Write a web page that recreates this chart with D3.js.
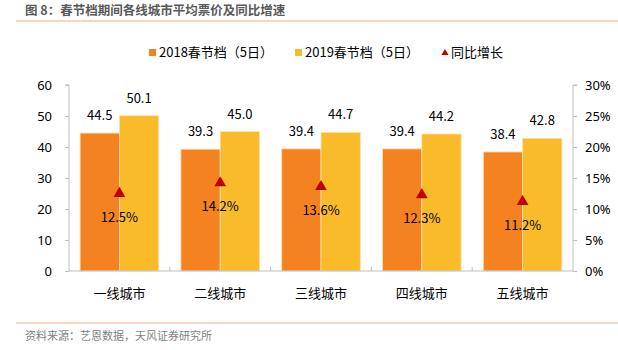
<!DOCTYPE html>
<html>
<head>
<meta charset="utf-8">
<script src="https://cdn.jsdelivr.net/npm/d3@7"></script>
<style>
  body { margin: 0; background: #fff; }
  text { font-family: "Noto Sans CJK SC", "Noto Sans", sans-serif; }
</style>
</head>
<body>
<script>
const cities = ["一线城市", "二线城市", "三线城市", "四线城市", "五线城市"];
const price2018 = [44.5, 39.3, 39.4, 39.4, 38.4];
const price2019 = [50.1, 45.0, 44.7, 44.2, 42.8];
const growth = [12.5, 14.2, 13.6, 12.3, 11.2];
const leftTicks = [0, 10, 20, 30, 40, 50, 60];
const rightTicks = [0, 5, 10, 15, 20, 25, 30];

let width = 618, height = 350;
let marginTop = 85, marginBottom = 79, marginLeft = 69, marginRight = 45;

const colOrange = "#F58220", colYellow = "#F9BB2A", colRed = "#C00000";

const svg = d3.select("body").append("svg")
    .attr("width", width)
    .attr("height", height);

// title and rules
svg.append("text").attr("x", 25).attr("y", 15)
    .attr("font-size", 12.5).attr("font-weight", "bold").attr("fill", "#595959")
    .text("图 8：春节档期间各线城市平均票价及同比增速");
svg.append("line").attr("x1", 16).attr("x2", width).attr("y1", 21).attr("y2", 21)
    .attr("stroke", "#F4B183").attr("stroke-width", 1.2);
svg.append("line").attr("x1", 16).attr("x2", width).attr("y1", 323).attr("y2", 323)
    .attr("stroke", "#F4B183").attr("stroke-width", 1.2);
svg.append("text").attr("x", 25).attr("y", 340)
    .attr("font-size", 11).attr("fill", "#7f7f7f")
    .text("资料来源：艺恩数据，天风证券研究所");

const x = d3.scaleBand()
    .domain(cities)
    .range([marginLeft, width - marginRight])
    .paddingInner(0.22).paddingOuter(0.11);
const x1 = d3.scaleBand().domain(["a", "b"]).range([0, x.bandwidth()]);

const y = d3.scaleLinear().domain([0, 60]).range([height - marginBottom, marginTop]);
const y2 = d3.scaleLinear().domain([0, 30]).range([height - marginBottom, marginTop]);

// bars
const g = svg.append("g");
cities.forEach((c, i) => {
    [[price2018[i], colOrange, "a"], [price2019[i], colYellow, "b"]].forEach(([v, col, k]) => {
        g.append("rect")
            .attr("x", x(c) + x1(k))
            .attr("y", y(v))
            .attr("width", x1.bandwidth())
            .attr("height", y(0) - y(v))
            .attr("fill", col)
            .attr("stroke", "#FFE1B0").attr("stroke-width", 0.8);
        g.append("text")
            .attr("x", x(c) + x1(k) + x1.bandwidth() / 2)
            .attr("y", y(v) - 13)
            .attr("text-anchor", "middle")
            .attr("font-size", 13).attr("fill", "#000")
            .text(v.toFixed(1));
    });
    const cx = x(c) + x.bandwidth() / 2, cy = y2(growth[i]);
    g.append("path")
        .attr("d", d3.symbol(d3.symbolTriangle, 60)())
        .attr("transform", `translate(${cx},${cy})`)
        .attr("fill", colRed);
    g.append("text")
        .attr("x", cx).attr("y", cy + 28)
        .attr("text-anchor", "middle")
        .attr("font-size", 13).attr("fill", "#000")
        .text(growth[i].toFixed(1) + "%");
});

// left axis
svg.append("g")
    .attr("transform", `translate(${marginLeft},0)`)
    .call(d3.axisLeft(y).tickValues(leftTicks).tickSize(4).tickPadding(13))
    .call(a => a.select(".domain").attr("stroke", "#bfbfbf").attr("d", `M-4,${y(60)}H0V${y(0)}`))
    .call(a => a.selectAll(".tick line").attr("stroke", "#bfbfbf"))
    .call(a => a.selectAll("text").attr("font-size", 13).attr("fill", "#000")
        .style("font-family", "'Noto Sans', sans-serif"));

// right axis
svg.append("g")
    .attr("transform", `translate(${width - marginRight},0)`)
    .call(d3.axisRight(y2).tickValues(rightTicks).tickFormat(d => d + "%").tickSize(4).tickPadding(8))
    .call(a => a.select(".domain").attr("stroke", "#bfbfbf").attr("d", `M4,${y2(30)}H0V${y2(0)}`))
    .call(a => a.selectAll(".tick line").attr("stroke", "#bfbfbf"))
    .call(a => a.selectAll("text").attr("font-size", 13).attr("fill", "#000")
        .style("font-family", "'Noto Sans', sans-serif"));

// bottom axis
svg.append("line")
    .attr("x1", marginLeft).attr("x2", width - marginRight)
    .attr("y1", y(0)).attr("y2", y(0))
    .attr("stroke", "#bfbfbf");
d3.range(1, cities.length).forEach(i => {
    const bx = marginLeft + (width - marginLeft - marginRight) * i / cities.length;
    svg.append("line").attr("x1", bx).attr("x2", bx)
        .attr("y1", y(0)).attr("y2", y(0) - 4).attr("stroke", "#bfbfbf");
});
svg.selectAll(".xl").data(cities).join("text")
    .attr("x", d => x(d) + x.bandwidth() / 2)
    .attr("y", y(0) + 27)
    .attr("text-anchor", "middle")
    .attr("font-size", 13).attr("fill", "#000")
    .text(d => d);

// legend
const legend = [
    { type: "rect", color: colOrange, label: "2018春节档（5日）", x: 149 },
    { type: "rect", color: colYellow, label: "2019春节档（5日）", x: 295 },
    { type: "tri", color: colRed, label: "同比增长", x: 441 }
];
legend.forEach(l => {
    if (l.type === "rect") {
        svg.append("rect").attr("x", l.x).attr("y", 49).attr("width", 7).attr("height", 7).attr("fill", l.color);
    } else {
        svg.append("path").attr("d", d3.symbol(d3.symbolTriangle, 22)())
            .attr("transform", `translate(${l.x + 4},53)`).attr("fill", l.color);
    }
    svg.append("text").attr("x", l.x + 10).attr("y", 57)
        .attr("font-size", 13).attr("fill", "#000").text(l.label);
});
</script>
</body>
</html>
